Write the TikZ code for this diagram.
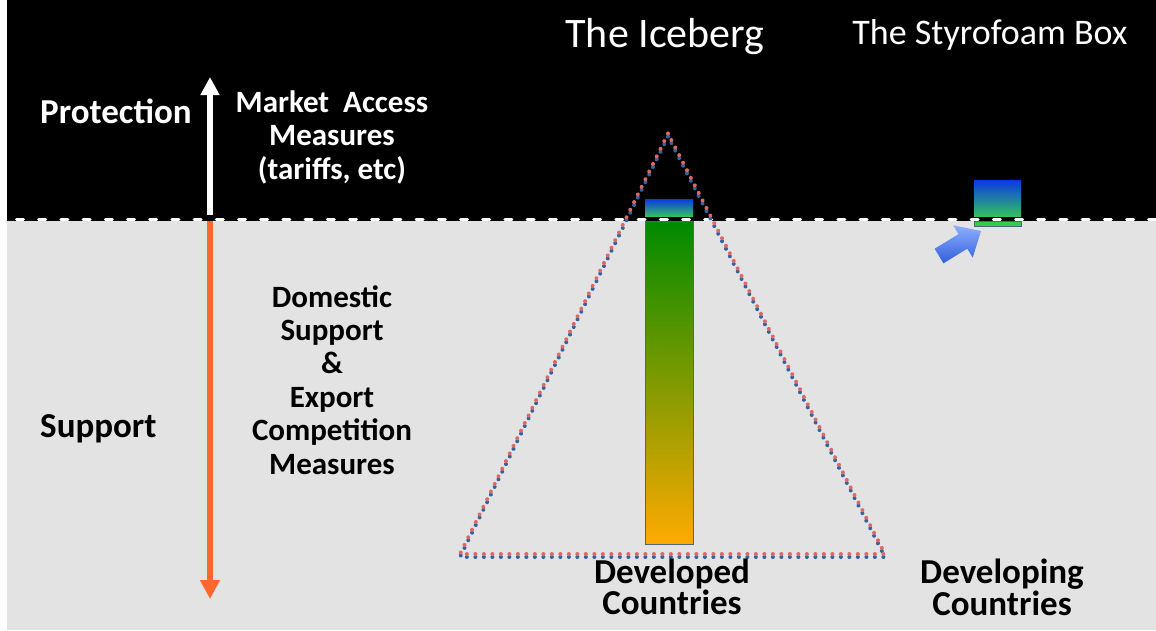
\documentclass[tikz,border=0pt]{standalone}
\usepackage{fontspec}
\setmainfont{Carlito}
\usetikzlibrary{arrows.meta,decorations.markings}
\definecolor{sea}{RGB}{227,227,227}
\definecolor{dotred}{RGB}{222,104,104}
\definecolor{dotblue}{RGB}{52,100,160}
\definecolor{bargreen}{RGB}{0,138,0}
\definecolor{barorange}{RGB}{255,170,0}
\definecolor{tipblue}{RGB}{12,56,230}
\definecolor{tipgreen}{RGB}{50,192,96}
\definecolor{foam}{RGB}{52,204,68}
\definecolor{edge}{RGB}{80,100,125}
\definecolor{supportarrow}{RGB}{255,104,44}
\tikzset{
  bigbold/.style={font=\fontsize{35}{30}\selectfont\bfseries, inner sep=0pt},
  midbold/.style={font=\fontsize{31}{33.4}\selectfont\bfseries, inner sep=0pt, align=center},
  dotline/.style={decoration={markings,
      mark=between positions 0 and 1 step 8.5pt with {\fill[#1] (0,0) circle (2pt);}},
    postaction={decorate}},
}
\begin{document}
\begin{tikzpicture}[x=1pt,y=-1pt]
\useasboundingbox (0,0) rectangle (1156,630);
% sky and sea
\fill[white] (0,0) rectangle (1156,630);
\fill[black] (7,0) rectangle (1156,221);
\fill[sea] (7,221) rectangle (1156,630);

% iceberg bar: tip above water, body below
\shade[top color=tipblue, bottom color=tipgreen] (645,199) rectangle (693,216);
\shade[top color=bargreen, bottom color=barorange, draw=edge, line width=0.8pt] (645,221) rectangle (693,544);

% styrofoam box floating on the surface
\shade[top color=tipblue, bottom color=tipgreen] (974,180) rectangle (1021,216);
\fill[foam, draw=edge, line width=0.6pt] (974,221) rectangle (1021,226);

% waterline
\draw[white, line width=3pt, line cap=round, dash pattern=on 7pt off 15.2pt] (16.5,219) -- (1156,219);

% dotted triangle around the iceberg (blue dots under red dots)
\path[dotline=dotblue] (668,136.5) -- (460,557) -- (885,557) -- cycle;
\path[dotline=dotred] (668,133.5) -- (460,554) -- (885,554) -- cycle;

% pointer to the styrofoam box
\shade[top color={rgb,255:red,140;green,175;blue,255}, bottom color={rgb,255:red,50;green,95;blue,220}]
  (943.4,263.3) -- (967.3,248.7) -- (972.7,257.6) -- (981,231) -- (953.1,225.2) -- (958.5,234.1) -- (934.6,248.7) -- cycle;

% protection / support arrows
\coordinate (surfup) at (210,215);
\coordinate (top) at (210,77);
\coordinate (surfdown) at (210,221);
\coordinate (bottom) at (210,599);
\draw[white, line width=6pt, -{Triangle[length=18pt,width=18pt]}] (surfup) -- (top);
\draw[supportarrow, line width=6pt, -{Triangle[length=19pt,width=19pt]}] (surfdown) -- (bottom);

% titles
\node[font=\fontsize{42}{42}\selectfont, white, anchor=base, inner sep=0pt] (iceberg) at (665,47) {The Iceberg};
\node[font=\fontsize{36}{36}\selectfont, white, anchor=base, inner sep=0pt] (styro) at (990,44) {The Styrofoam Box};

% left labels
\node[bigbold, white, anchor=base west] (protection) at (40,123) {Protection};
\node[bigbold, black, anchor=base west] (support) at (40,437) {Support};
\node[midbold, white, anchor=north] (market) at (332,90.5) {Market~~Access\\Measures\\(tariffs, etc)};
\node[midbold, black, anchor=north] (domestic) at (332,285) {Domestic\\Support\\\&\\Export\\Competition\\Measures};

% bottom labels
\node[bigbold, black, align=center, anchor=north] (developed) at (672,559) {Developed\\Countries};
\node[bigbold, black, align=center, anchor=north] (developing) at (1002,559) {Developing\\Countries};
\end{tikzpicture}
\end{document}
